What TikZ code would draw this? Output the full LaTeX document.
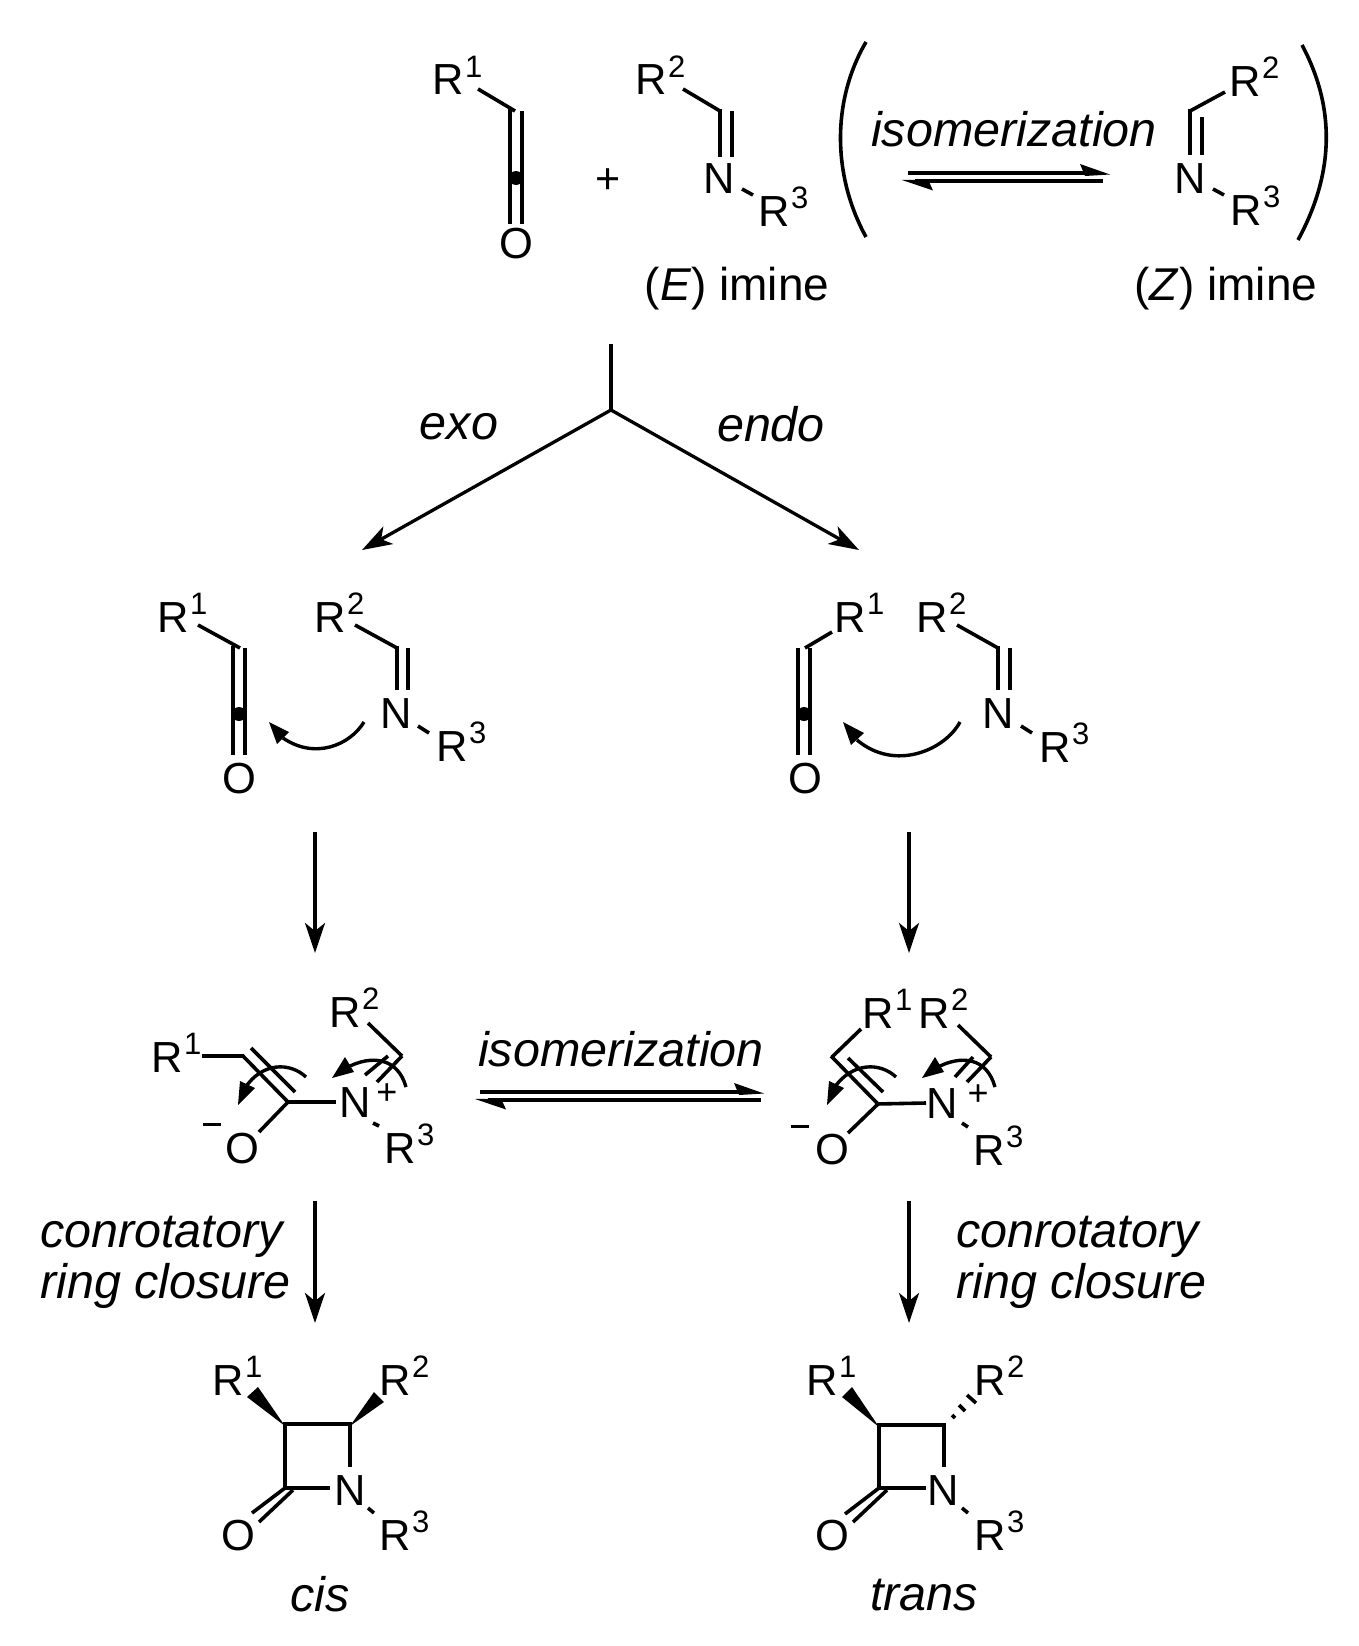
\documentclass[tikz,border=0pt]{standalone}
\usepackage{fontspec}
\setmainfont{Liberation Sans}
\usetikzlibrary{arrows.meta}
\newcommand{\atomfont}{\fontsize{43.5}{43.5}\selectfont}
\newcommand{\labfont}{\fontsize{46}{46}\selectfont}
\newcommand{\itfont}{\fontsize{48.5}{48.5}\selectfont\itshape}
\newcommand{\Rs}[1]{R\kern1.5pt\raisebox{17.5pt}{\fontsize{31}{31}\selectfont #1}}
\tikzset{
  bond/.style={line width=3.6pt,black},
  bigarrow/.style={line width=3.3pt,black,-{Stealth[length=30pt,width=20pt,inset=8pt]}},
  eqline/.style={line width=3.1pt,black},
  curly/.style={line width=3.4pt,black},
  solidfill/.style={fill=black,draw=none},
  rlab/.style={anchor=base west,inner sep=0pt,font=\atomfont},
  atom/.style={anchor=base,inner sep=0pt,font=\atomfont},
  lab/.style={anchor=base,inner sep=0pt,font=\labfont},
  itlab/.style={anchor=center,inner sep=0pt,font=\itfont},
  itleft/.style={anchor=base west,inner sep=0pt,font=\itfont},
  chargeplus/.style={anchor=center,inner sep=0pt,font=\fontsize{36}{36}\selectfont}
}
\begin{document}
\begin{tikzpicture}[x=1pt,y=-1pt]
\useasboundingbox (0,0) rectangle (1358,1646);
\fill[white] (0,0) rectangle (1358,1646);

% ---------- top: ketene + imine
\node[rlab] (tR1) at (432,95) {\Rs{1}};
\draw[bond] (478,89) -- (515,111);
\draw[bond] (510,109) -- (510,224);
\draw[bond] (522,111) -- (522,224);
\fill (516,178) circle (7pt);
\node[atom] (tO) at (516,258) {O};
\node[anchor=center,inner sep=0pt,font=\fontsize{43}{43}\selectfont] (plus) at (608,181) {+};
\node[rlab] (tR2) at (635,95) {\Rs{2}};
\draw[bond] (683,89) -- (720,111);
\draw[bond] (720,109) -- (720,157);
\draw[bond] (732,111) -- (732,157);
\node[atom] (tN) at (719,193) {N};
\draw[bond] (742,189) -- (753,195);
\node[rlab] (tR3) at (758,226) {\Rs{3}};
\node[lab] (elab) at (737,300) {(\textit{E}) imine};

% brackets
\draw[bond] (866,42) .. controls (832,100) and (832,175) .. (866,237);
\draw[bond] (1302,45) .. controls (1334,105) and (1336,170) .. (1298,240);
\node[itlab] (iso1) at (1014,129) {isomerization};
\coordinate (eqAl) at (908,173); \coordinate (eqAr) at (1100,173);
\coordinate (eqBl) at (915,181); \coordinate (eqBr) at (1103,181);
\draw[eqline] (eqAl) -- (eqAr);
\draw[eqline] (eqBr) -- (eqBl);
\fill[solidfill] (1110,174.5) -- (1080,164) -- (1085,176) -- cycle;
\fill[solidfill] (902,180) -- (933,190.5) -- (928,179.5) -- cycle;

% Z imine
\node[rlab] (zR2) at (1229,96) {\Rs{2}};
\draw[bond] (1225,92) -- (1190,111);
\draw[bond] (1190,109) -- (1190,155);
\draw[bond] (1202,117) -- (1202,155);
\node[atom] (zN) at (1190,193) {N};
\draw[bond] (1213,189) -- (1224,195);
\node[rlab] (zR3) at (1230,225) {\Rs{3}};
\node[lab] (zlab) at (1226,300) {(\textit{Z}) imine};

% branch
\coordinate (j0) at (611,344); \coordinate (j) at (611,410);
\coordinate (jL) at (362,550); \coordinate (jR) at (859,550);
\draw[line width=3.3pt] (j0) -- (j);
\draw[bigarrow,line cap=round] (j) -- (jL);
\draw[bigarrow,line cap=round] (j) -- (jR);
\node[itlab] (exo) at (459,427) {exo};
\node[itlab] (endo) at (771,424) {endo};

% ---------- exo TS
\node[rlab] (aR1) at (157,632) {\Rs{1}};
\draw[bond] (198,625) -- (240,648);
\draw[bond] (233,646) -- (233,755);
\draw[bond] (245,648) -- (245,755);
\fill (239,714) circle (7pt);
\node[atom] (aO) at (239,793) {O};
\node[rlab] (aR2) at (314,632) {\Rs{2}};
\draw[bond] (355,625) -- (397,648);
\draw[bond] (397,646) -- (397,690);
\draw[bond] (408,648) -- (408,690);
\node[atom] (aN) at (396,728) {N};
\draw[bond] (418,726) -- (429,733);
\node[rlab] (aR3) at (436,761) {\Rs{3}};
\draw[curly] (364,722) .. controls (350,745) and (315,760) .. (283,738);
\fill[solidfill] (269,722) -- (277,744) -- (289,732) -- cycle;

% ---------- endo TS
\node[rlab] (bR1) at (834,632) {\Rs{1}};
\draw[bond] (832,632) -- (805,648);
\draw[bond] (798,648) -- (798,755);
\draw[bond] (810,648) -- (810,755);
\fill (804,714) circle (7pt);
\node[atom] (bO) at (805,793) {O};
\node[rlab] (bR2) at (916,632) {\Rs{2}};
\draw[bond] (957,625) -- (998,648);
\draw[bond] (998,646) -- (998,690);
\draw[bond] (1010,648) -- (1010,690);
\node[atom] (bN) at (998,728) {N};
\draw[bond] (1021,726) -- (1032,733);
\node[rlab] (bR3) at (1039,762) {\Rs{3}};
\draw[curly] (960,722) .. controls (945,750) and (895,772) .. (857,740);
\fill[solidfill] (843,722) -- (851,745) -- (864,733) -- cycle;

% vertical arrows
\coordinate (v1a) at (315,832); \coordinate (v1b) at (315,953);
\coordinate (v2a) at (909,832); \coordinate (v2b) at (909,953);
\draw[bigarrow] (v1a) -- (v1b);
\draw[bigarrow] (v2a) -- (v2b);

% ---------- zwitterion left
\node[rlab] (cR1) at (151,1072) {\Rs{1}};
\draw[bond] (202,1056) -- (243,1056);
\draw[bond] (242,1055) -- (288,1102);
\draw[bond] (251,1048) -- (295,1092);
\draw[bond] (286,1102) -- (336,1102);
\draw[bond] (288,1102) -- (259,1132);
\node[atom] (cO) at (242,1163) {O};
\draw[line width=3pt] (203,1124) -- (221,1124);
\node[atom] (cN) at (355,1117) {N};
\node[chargeplus] (cplus) at (387,1094) {+};
\draw[bond] (373,1123) -- (379,1126);
\node[rlab] (cR3) at (384,1163) {\Rs{3}};
\node[rlab] (cR2) at (329,1027) {\Rs{2}};
\draw[bond] (368,1023) -- (402,1056);
\draw[bond] (402,1056) -- (377,1082);
\draw[bond] (388,1056) -- (365,1075);
\draw[curly] (306,1077) .. controls (290,1062) and (262,1062) .. (245,1088);
\fill[solidfill] (238,1105) -- (240,1081) -- (255,1088) -- cycle;
\draw[curly] (406,1087) .. controls (398,1058) and (372,1054) .. (346,1068);
\fill[solidfill] (332,1078) -- (345,1057) -- (354,1072) -- cycle;

% middle equilibrium
\node[itlab] (iso2) at (621,1049) {isomerization};
\coordinate (eqCl) at (480,1092); \coordinate (eqCr) at (755,1092);
\coordinate (eqDl) at (488,1100); \coordinate (eqDr) at (761,1100);
\draw[eqline] (eqCl) -- (eqCr);
\draw[eqline] (eqDr) -- (eqDl);
\fill[solidfill] (764,1093.5) -- (734,1083) -- (739,1095) -- cycle;
\fill[solidfill] (475,1099) -- (506,1109.5) -- (501,1098.5) -- cycle;

% ---------- zwitterion right
\node[rlab] (dR1) at (862,1028) {\Rs{1}};
\node[rlab] (dR2) at (918,1028) {\Rs{2}};
\draw[bond] (861,1029) -- (832,1057);
\draw[bond] (831,1056) -- (878,1104);
\draw[bond] (848,1058) -- (883,1092);
\draw[bond] (876,1104) -- (926,1103);
\draw[bond] (878,1104) -- (848,1133);
\node[atom] (dO) at (832,1164) {O};
\draw[line width=3pt] (791,1126) -- (809,1126);
\node[atom] (dN) at (942,1118) {N};
\node[chargeplus] (dplus) at (978,1095) {+};
\draw[bond] (962,1123) -- (968,1127);
\node[rlab] (dR3) at (973,1165) {\Rs{3}};
\draw[bond] (958,1025) -- (991,1057);
\draw[bond] (991,1057) -- (967,1082);
\draw[bond] (973,1057) -- (955,1077);
\draw[curly] (896,1077) .. controls (880,1062) and (852,1062) .. (834,1088);
\fill[solidfill] (827,1105) -- (829,1081) -- (844,1088) -- cycle;
\draw[curly] (995,1087) .. controls (987,1058) and (962,1054) .. (936,1068);
\fill[solidfill] (922,1078) -- (935,1057) -- (944,1072) -- cycle;

% vertical arrows lower
\coordinate (v3a) at (315,1201); \coordinate (v3b) at (315,1323);
\coordinate (v4a) at (909,1201); \coordinate (v4b) at (909,1323);
\draw[bigarrow] (v3a) -- (v3b);
\draw[bigarrow] (v4a) -- (v4b);
\node[itleft] (crA) at (40,1247) {conrotatory};
\node[itleft] (rcA) at (40,1298) {ring closure};
\node[itleft] (crB) at (956,1247) {conrotatory};
\node[itleft] (rcB) at (956,1298) {ring closure};

% ---------- cis
\node[rlab] (eR1) at (212,1395) {\Rs{1}};
\node[rlab] (eR2) at (379,1395) {\Rs{2}};
\draw[bond,line join=miter] (350,1467) -- (350,1424) -- (285,1424) -- (285,1488) -- (330,1488);
\draw[bond] (285,1488) -- (252,1513);
\draw[bond] (293,1490) -- (259,1522);
\node[atom] (eO) at (238,1550) {O};
\node[atom] (eN) at (350,1505) {N};
\draw[bond] (368,1508) -- (374,1513);
\node[rlab] (eR3) at (379,1550) {\Rs{3}};
\fill[solidfill] (285,1426) -- (247,1397) -- (258,1387) -- cycle;
\fill[solidfill] (350,1426) -- (374,1392) -- (384,1402) -- cycle;
\node[itlab] (cis) at (320,1594) {cis};

% ---------- trans
\node[rlab] (fR1) at (806,1395) {\Rs{1}};
\node[rlab] (fR2) at (974,1395) {\Rs{2}};
\draw[bond,line join=miter] (944,1467) -- (944,1425) -- (879,1425) -- (879,1488) -- (926,1488);
\draw[bond] (879,1488) -- (845,1514);
\draw[bond] (887,1490) -- (853,1522);
\node[atom] (fO) at (832,1550) {O};
\node[atom] (fN) at (943,1505) {N};
\draw[bond] (962,1508) -- (968,1513);
\node[rlab] (fR3) at (974,1550) {\Rs{3}};
\fill[solidfill] (879,1427) -- (842,1397) -- (852,1387) -- cycle;
\draw[bond] (952,1415) -- (955,1418);
\draw[bond] (959,1405) -- (965,1411);
\draw[bond] (967,1395) -- (976,1403);
\node[itlab] (trans) at (924,1595) {trans};
\end{tikzpicture}
\end{document}
